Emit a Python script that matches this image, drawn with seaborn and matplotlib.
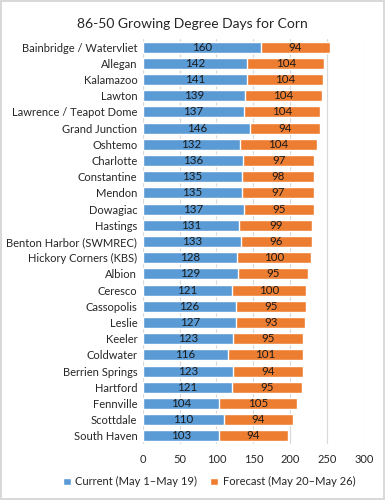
#!/usr/bin/env python3
"""Stacked horizontal bars: 86-50 growing degree days for corn."""

import pandas as pd
import matplotlib.pyplot as plt
import seaborn as sns

stations = [
    'Bainbridge / Watervliet', 'Allegan', 'Kalamazoo', 'Lawton',
    'Lawrence / Teapot Dome', 'Grand Junction', 'Oshtemo', 'Charlotte',
    'Constantine', 'Mendon', 'Dowagiac', 'Hastings', 'Benton Harbor (SWMREC)',
    'Hickory Corners (KBS)', 'Albion', 'Ceresco', 'Cassopolis', 'Leslie',
    'Keeler', 'Coldwater', 'Berrien Springs', 'Hartford', 'Fennville',
    'Scottdale', 'South Haven',
]
current = [160, 142, 141, 139, 137, 146, 132, 136, 135, 135, 137, 131, 133,
           128, 129, 121, 126, 127, 123, 116, 123, 121, 104, 110, 103]
forecast = [94, 104, 104, 104, 104, 94, 104, 97, 98, 97, 95, 99, 96,
            100, 95, 100, 95, 93, 95, 101, 94, 95, 105, 94, 94]
x_ticks = [0, 50, 100, 150, 200, 250, 300]

BLUE = '#5B9BD5'
ORANGE = '#ED7D31'


def main():
    sns.set_style('white')
    plt.rcParams['font.family'] = ['Lato', 'DejaVu Sans']

    df = pd.DataFrame({'station': stations, 'current': current,
                       'forecast': forecast})
    df['total'] = df['current'] + df['forecast']

    fig = plt.figure(figsize=(3.85, 5.0), dpi=100,
                     edgecolor='#d9d9d9', linewidth=1.5)
    ax = fig.add_axes([0.371, 0.112, 0.574, 0.81])

    sns.barplot(data=df, y='station', x='total', color=ORANGE, width=0.68,
                saturation=1, ax=ax, label='Forecast (May 20\u2013May 26)')
    sns.barplot(data=df, y='station', x='current', color=BLUE, width=0.68,
                saturation=1, ax=ax, label='Current (May 1\u2013May 19)')

    # value labels in the middle of each segment
    for i, row in df.iterrows():
        ax.text(row['current'] / 2, i, str(row['current']), ha='center',
                va='center', fontsize=8.3, color='#1a1a1a')
        ax.text(row['current'] + row['forecast'] / 2, i, str(row['forecast']),
                ha='center', va='center', fontsize=8.3, color='#1a1a1a')

    ax.set_xlim(0, 300)
    ax.set_xticks(x_ticks)
    ax.xaxis.grid(True, color='#d9d9d9', linewidth=0.8)
    ax.set_axisbelow(True)
    for s in ax.spines.values():
        s.set_visible(False)
    ax.set_xlabel('')
    ax.set_ylabel('')
    ax.tick_params(axis='y', length=0, labelsize=8, colors='#262626', pad=4)
    ax.tick_params(axis='x', length=0, labelsize=8, colors='#262626', pad=7)
    fig.suptitle('86-50 Growing Degree Days for Corn', x=0.5, y=0.965,
                 fontsize=10, color='#262626')

    handles, labels = ax.get_legend_handles_labels()
    ax.legend(handles[::-1], labels[::-1], loc='upper center',
              bbox_to_anchor=(0.3, -0.055), ncol=2, frameon=False,
              fontsize=8, handlelength=0.7, handleheight=0.7,
              handletextpad=0.4, columnspacing=1.2)

    fig.savefig('out.png', dpi=100, edgecolor=fig.get_edgecolor())


if __name__ == '__main__':
    main()
